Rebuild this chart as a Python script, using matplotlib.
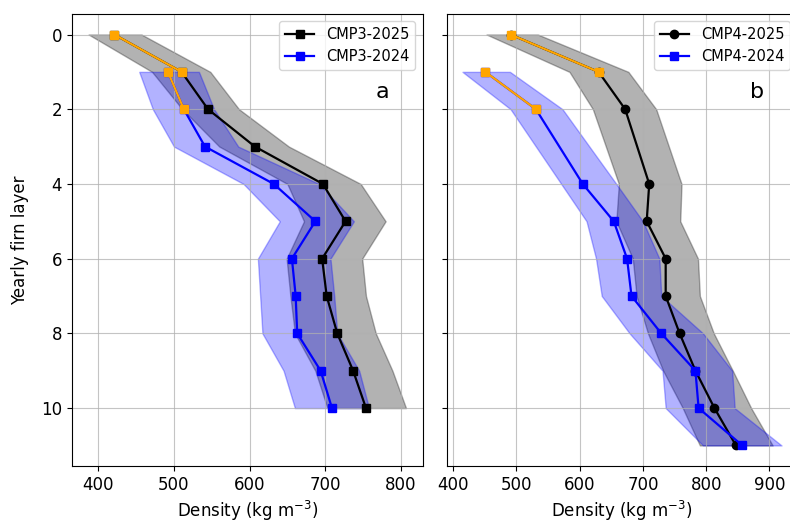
import numpy as np
import matplotlib
matplotlib.use("Agg")
import matplotlib.pyplot as plt

# ---- CMP3 (panel a) ----
layers_a25 = [0, 1, 2, 3, 4, 5, 6, 7, 8, 9, 10]
cmp3_2025 = [421, 510, 545, 607, 697, 727, 696, 702, 716, 737, 754]
cmp3_2025_lo = [387, 471, 511, 560, 650, 672, 649, 654, 660, 687, 703]
cmp3_2025_hi = [457, 548, 586, 652, 747, 780, 749, 754, 767, 789, 807]

layers_a24 = [1, 2, 3, 4, 5, 6, 7, 8, 9, 10]
cmp3_2024 = [492, 513, 541, 632, 687, 656, 661, 663, 694, 709]
cmp3_2024_lo = [454, 472, 500, 592, 640, 611, 614, 617, 645, 660]
cmp3_2024_hi = [533, 553, 585, 692, 738, 707, 712, 716, 745, 758]

# ---- CMP4 (panel b) ----
layers_b25 = [0, 1, 2, 4, 5, 6, 7, 8, 9, 10, 11]
cmp4_2025 = [491, 630, 672, 710, 706, 736, 736, 758, 783, 813, 847]
cmp4_2025_lo = [453, 584, 621, 662, 658, 684, 690, 708, 732, 763, 790]
cmp4_2025_hi = [534, 677, 721, 761, 759, 787, 790, 812, 842, 871, 905]

layers_b24 = [1, 2, 4, 5, 6, 7, 8, 9, 10, 11]
cmp4_2024 = [451, 531, 605, 654, 675, 682, 729, 783, 788, 857]
cmp4_2024_lo = [415, 491, 571, 611, 626, 635, 679, 731, 736, 795]
cmp4_2024_hi = [490, 573, 658, 700, 726, 729, 795, 841, 845, 919]

yticks = [0, 2, 4, 6, 8, 10]
xticks_a = [400, 500, 600, 700, 800]
xticks_b = [400, 500, 600, 700, 800, 900]

plt.rcParams['font.family'] = ['DejaVu Sans']

fig = plt.figure(figsize=(7.9, 5.25), dpi=100)
ax_a = fig.add_axes([0.0911, 0.1124, 0.4439, 0.861])
ax_b = fig.add_axes([0.5654, 0.1124, 0.4439, 0.861], sharey=ax_a)


def draw_panel(ax, y25, m25, lo25, hi25, y24, m24, lo24, hi24,
               marker25, lab25, lab24, letter):
    ax.fill_betweenx(y25, lo25, hi25, color='k', alpha=0.3)
    ax.fill_betweenx(y24, lo24, hi24, color='b', alpha=0.3)
    ax.plot(m25, y25, color='k', marker=marker25, ms=6, lw=1.6, label=lab25, zorder=3)
    ax.plot(m24, y24, color='b', marker='s', ms=6, lw=1.6, label=lab24, zorder=3)
    # surface layers shown in orange
    ax.plot(m25[:2], y25[:2], color='orange', marker='s', ms=6, lw=1.6, zorder=4)
    ax.plot(m24[:2], y24[:2], color='orange', marker='s', ms=6, lw=1.6, zorder=4)
    ax.grid(True, color='#b0b0b0', alpha=0.75)
    ax.legend(loc='upper right', fontsize=10.5)
    ax.text(0.885, 0.828, letter, transform=ax.transAxes, fontsize=16,
            ha='center', va='center')
    ax.set_xlabel('Density (kg m$^{-3}$)', fontsize=12)
    ax.tick_params(labelsize=12)


draw_panel(ax_a, layers_a25, cmp3_2025, cmp3_2025_lo, cmp3_2025_hi,
           layers_a24, cmp3_2024, cmp3_2024_lo, cmp3_2024_hi,
           's', 'CMP3-2025', 'CMP3-2024', 'a')
draw_panel(ax_b, layers_b25, cmp4_2025, cmp4_2025_lo, cmp4_2025_hi,
           layers_b24, cmp4_2024, cmp4_2024_lo, cmp4_2024_hi,
           'o', 'CMP4-2025', 'CMP4-2024', 'b')

ax_a.set_xticks(xticks_a)
ax_b.set_xticks(xticks_b)
ax_a.set_xlim(365, 829)
ax_b.set_xlim(390, 944)
ax_a.set_yticks(yticks)
ax_a.set_ylim(11.55, -0.55)
ax_a.set_ylabel('Yearly firn layer', fontsize=12, labelpad=9)
plt.setp(ax_b.get_yticklabels(), visible=False)

fig.savefig('out.png', dpi=100)
